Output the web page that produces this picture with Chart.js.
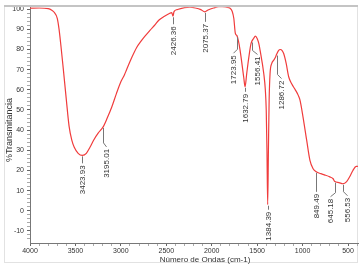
<!DOCTYPE html>
<html lang="es">
<head>
  <meta charset="UTF-8" />
  <title>Espectro IR</title>
  <script src="https://cdn.jsdelivr.net/npm/chart.js"></script>
  <style>
    body { margin: 0; background: #fff; }
    #wrap { width: 364px; height: 268px; }
  </style>
</head>
<body>
<div id="wrap"><canvas id="espectro" width="364" height="268"></canvas></div>

<script>
  const numeroOnda = [4000, 3900, 3800, 3760, 3734, 3700, 3680, 3660, 3635, 3600, 3570, 3540, 3513, 3470, 3424,
    3380, 3340, 3300, 3250, 3195, 3150, 3100, 3050, 3000, 2960, 2937, 2880, 2826, 2780, 2737, 2680, 2620, 2583,
    2520, 2461, 2440, 2426, 2415, 2380, 2300, 2240, 2180, 2120, 2076, 2040, 1980, 1920, 1885, 1840, 1798, 1775,
    1757, 1740, 1724, 1705, 1688, 1647, 1633, 1615, 1592, 1567, 1537, 1520, 1500, 1482, 1468, 1427, 1410, 1400,
    1392, 1384, 1376, 1368, 1358, 1340, 1318, 1300, 1287, 1265, 1245, 1225, 1208, 1180, 1153, 1120, 1080, 1050,
    1029, 995, 955, 919, 886, 849, 800, 760, 700, 666, 645, 600, 556, 515, 480, 446, 410, 391];
  const transmitancia = [100.5, 100.6, 100.3, 99.5, 98.5, 95.5, 90, 82, 71, 55, 42, 35, 31.5, 28.5, 27.5,
    28.5, 31.5, 35, 38.5, 41.6, 46, 51.5, 58, 64, 67.5, 70, 76, 81, 84, 86.5, 89.5, 92.5, 94.5,
    96.5, 98, 98.3, 96.5, 98.8, 99.8, 100.8, 101, 100.6, 99.8, 98.7, 99.6, 100.6, 101.3, 101.3, 101, 100.5, 99,
    95.5, 88, 87, 84, 79.7, 66, 61.5, 68, 76, 83, 85.6, 86.6, 85.5, 83, 79.7, 68, 60, 50,
    30, 3, 30, 55, 68, 73, 74.7, 76, 77.5, 79.5, 80, 79.5, 78, 73, 66.5, 63, 60, 57.5,
    55, 46.5, 35, 25, 21, 19.3, 18.4, 17.8, 16.8, 16, 14.5, 14, 13.4, 14.5, 17, 20, 22, 22];

  const picosOnda = [3423.93, 3195.01, 2426.36, 2075.37, 1723.95, 1632.79, 1556.41, 1384.39, 1286.72, 849.49, 645.18, 556.53];
  const picosT = [27.5, 41.6, 96.5, 98.7, 86.6, 61.5, 84, 3, 77.5, 19.3, 14.4, 13.4];
  const picosTexto = ['3423.93', '3195.01', '2426.36', '2075.37', '1723.95', '1632.79', '1556.41', '1384.39', '1286.72', '849.49', '645.18', '556.53'];

  const etiquetasX = [4000, 3500, 3000, 2500, 2000, 1500, 1000, 500];
  const etiquetasY = [-10, 0, 10, 20, 30, 40, 50, 60, 70, 80, 90, 100];

  // largo de la guía y desplazamiento del texto de cada pico (px)
  const guias = [
    { drop: 8, dx: 0 }, { drop: 16, dx: 3 }, { drop: 8, dx: 0 }, { drop: 10, dx: 0 },
    { drop: 13, dx: -4 }, { drop: 5, dx: 0 }, { drop: 9, dx: 5 }, { drop: 5, dx: 0 },
    { drop: 20, dx: 4 }, { drop: 20, dx: 0 }, { drop: 11, dx: -5 }, { drop: 8, dx: 4 }
  ];

  const marcoPlugin = {
    id: 'marco',
    beforeDraw(chart) {
      const ctx = chart.ctx;
      ctx.save();
      ctx.strokeStyle = '#e2e2e2';
      ctx.lineWidth = 1;
      ctx.strokeRect(4.5, 5.5, 353, 257);
      ctx.restore();
    },
    afterDraw(chart) {
      const ctx = chart.ctx;
      ctx.save();
      ctx.fillStyle = '#c4c4c4';
      ctx.fillRect(4, 5, 354, 2);
      ctx.fillStyle = '#333';
      ctx.textAlign = 'center';
      ctx.textBaseline = 'middle';
      ctx.font = '8px "Liberation Sans", Arial, sans-serif';
      ctx.fillText('Número de Ondas (cm-1)', 205, 260);
      ctx.translate(9.5, 130);
      ctx.rotate(-Math.PI / 2);
      ctx.font = '9px "Liberation Sans", Arial, sans-serif';
      ctx.fillText('%Transmitancia', 0, 0);
      ctx.restore();
    }
  };

  const picosPlugin = {
    id: 'picos',
    afterDatasetsDraw(chart) {
      const ctx = chart.ctx;
      const xs = chart.scales.x, ys = chart.scales.y;
      ctx.save();
      ctx.strokeStyle = '#777';
      ctx.lineWidth = 1;
      ctx.fillStyle = '#333';
      ctx.font = '8px "Liberation Sans", Arial, sans-serif';
      ctx.textAlign = 'right';
      ctx.textBaseline = 'middle';
      picosOnda.forEach((w, i) => {
        const x = Math.round(xs.getPixelForValue(w)) + 0.5;
        const y = ys.getPixelForValue(picosT[i]);
        const g = guias[i];
        ctx.beginPath();
        ctx.moveTo(x, y + 1);
        ctx.lineTo(x, y + g.drop);
        let top = y + g.drop + 2;
        if (g.dx) {
          ctx.lineTo(x + g.dx, y + g.drop + 4);
          top += 4;
        }
        ctx.stroke();
        ctx.save();
        ctx.translate(x + g.dx, top);
        ctx.rotate(-Math.PI / 2);
        ctx.fillText(picosTexto[i], 0, 0);
        ctx.restore();
      });
      ctx.restore();
    }
  };

  const fuenteTicks = { size: 7, family: '"Liberation Sans", Arial, sans-serif' };

  new Chart(document.getElementById('espectro').getContext('2d'), {
    type: 'line',
    data: {
      datasets: [{
        data: numeroOnda.map((w, i) => ({ x: w, y: transmitancia[i] })),
        borderColor: '#f03c3c',
        borderWidth: 1.2,
        pointRadius: 0,
        cubicInterpolationMode: 'monotone',
        fill: false
      }]
    },
    options: {
      responsive: false,
      animation: false,
      layout: { padding: { left: 0, right: 6, top: 7, bottom: 0 } },
      plugins: { legend: { display: false }, tooltip: { enabled: false } },
      scales: {
        x: {
          type: 'linear',
          reverse: true,
          min: 390,
          max: 4000,
          afterBuildTicks(scale) {
            const t = [];
            for (let v = 400; v <= 4000; v += 100) t.push({ value: v });
            scale.ticks = t;
          },
          afterFit(scale) { scale.height = 25; },
          border: { display: true, color: '#777' },
          grid: {
            drawOnChartArea: false,
            tickLength: 3,
            tickColor: ctx => etiquetasX.includes(ctx.tick.value) ? '#666' : '#aaa'
          },
          ticks: {
            autoSkip: false,
            maxRotation: 0,
            padding: 1,
            color: '#333',
            font: fuenteTicks,
            callback: v => etiquetasX.includes(v) ? String(v) : ''
          }
        },
        y: {
          min: -16,
          max: 101,
          afterBuildTicks(scale) {
            const t = [];
            for (let v = -14; v <= 100; v += 2) t.push({ value: v });
            scale.ticks = t;
          },
          afterFit(scale) { scale.width = 30; },
          border: { display: true, color: '#777' },
          grid: {
            drawOnChartArea: false,
            tickLength: 3,
            tickColor: ctx => etiquetasY.includes(ctx.tick.value) ? '#666' : '#aaa'
          },
          ticks: {
            autoSkip: false,
            padding: 3,
            color: '#333',
            font: fuenteTicks,
            callback: v => etiquetasY.includes(v) ? String(v) : ''
          }
        }
      }
    },
    plugins: [marcoPlugin, picosPlugin]
  });
</script>
</body>
</html>
